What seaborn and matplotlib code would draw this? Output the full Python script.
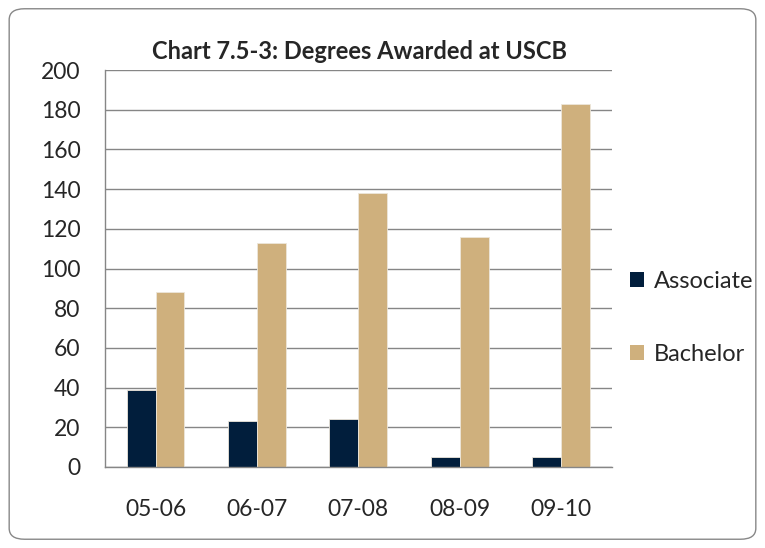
import pandas as pd
import matplotlib.pyplot as plt
import seaborn as sns
from matplotlib.patches import FancyBboxPatch, Patch

# Datos
years = ["05-06", "06-07", "07-08", "08-09", "09-10"]
associate = [39, 23, 24, 5, 5]
bachelor = [88, 113, 138, 116, 183]

df = pd.DataFrame({
    "Year": years * 2,
    "Degree": ["Associate"] * len(years) + ["Bachelor"] * len(years),
    "Count": associate + bachelor,
})

colors = {"Associate": "#011E3C", "Bachelor": "#CFB07D"}

sns.set_style("white")
plt.rcParams["font.family"] = ["Lato", "DejaVu Sans"]

fig = plt.figure(figsize=(7.65, 5.48), dpi=100)
ax = fig.add_axes([0.137, 0.148, 0.663, 0.724])

sns.barplot(data=df, x="Year", y="Count", hue="Degree", palette=colors,
            saturation=1, width=0.57, edgecolor="#ece6da", linewidth=0.6,
            ax=ax, legend=False)

ax.set_ylim(0, 200)
ax.set_xlim(-0.5, 4.5)
ax.set_yticks(range(0, 201, 20))
ax.yaxis.grid(True, color="#868686", linewidth=1)
ax.set_axisbelow(True)
ax.set_xlabel("")
ax.set_ylabel("")

# ticks del eje x entre categorias
ax.set_xticks(range(len(years)))
ax.set_xticklabels(years)
ax.set_xticks([i - 0.5 for i in range(len(years) + 1)], minor=True)
ax.tick_params(axis="x", which="major", length=0, pad=23, labelsize=16.5)
ax.tick_params(axis="x", which="minor", length=6, color="#868686", direction="out")
ax.tick_params(axis="y", length=6.5, color="#868686", direction="out", labelsize=16.5, pad=11)

for side in ["top", "right"]:
    ax.spines[side].set_visible(False)
for side in ["left", "bottom"]:
    ax.spines[side].set_color("#868686")
    ax.spines[side].set_linewidth(1)

fig.text(0.47, 0.906, "Chart 7.5-3: Degrees Awarded at USCB", ha="center",
         va="center", fontsize=17, fontweight="bold")

handles = [Patch(facecolor=colors[k], edgecolor="none") for k in ["Associate", "Bachelor"]]
ax.legend(handles, ["Associate", "Bachelor"], loc="center left",
          bbox_to_anchor=(1.012, 0.375), frameon=False, fontsize=17,
          handlelength=0.6, handleheight=0.6, handletextpad=0.4,
          labelspacing=2.2, borderpad=0)

# marco redondeado
border = FancyBboxPatch((0.012, 0.016), 0.976, 0.968,
                        boxstyle="round,pad=0,rounding_size=0.02",
                        transform=fig.transFigure, facecolor="none",
                        edgecolor="#888888", linewidth=1)
fig.patches.append(border)

fig.savefig("out.png", dpi=100)
